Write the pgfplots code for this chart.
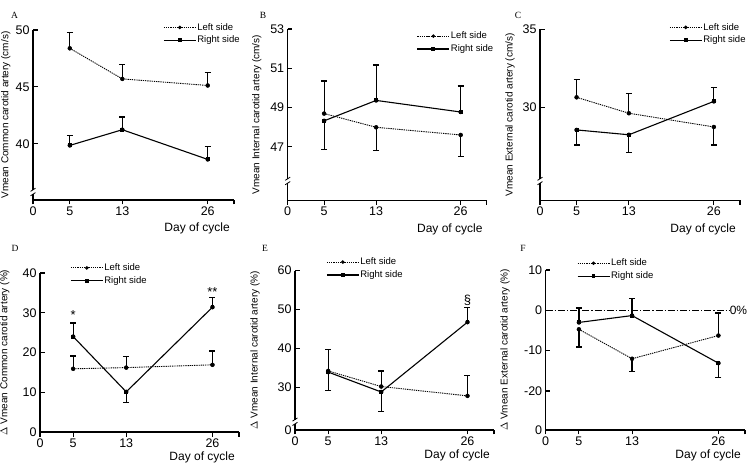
\documentclass[border=0pt]{standalone}
\usepackage{pgfplots}
\pgfplotsset{compat=1.18}
\usepackage{fontspec}
\setmainfont{Liberation Sans}
\newfontfamily\seriffont{Liberation Serif}

\pgfplotsset{
 panel/.style={
  scale only axis, anchor=south west, clip=false,
  axis x line*=bottom, axis y line*=left,
  axis line style={line width=1.2pt},
  tick align=inside, major tick length=4.5pt,
  every tick/.style={black, line width=1.1pt},
  xtick style={yshift=-4.5pt},
  tick label style={font=\fontsize{12.5}{14}\selectfont},
  xticklabel style={yshift=-3pt},
  xmax=30,
  ylabel style={font=\fontsize{10}{12}\selectfont, at={(rel axis cs:0,0.5)}, anchor=center},
  xlabel={Day of cycle},
  xlabel style={font=\fontsize{12}{14}\selectfont, at={(rel axis cs:1,0)}, anchor=base east, inner sep=0pt, xshift=-4pt},
  legend style={draw=none, fill=none, font=\fontsize{9.5}{10}\selectfont, legend cell align=left, inner sep=0pt, row sep=2.5pt, nodes={inner sep=1pt}},
  legend image code/.code={\draw[mark repeat=2, mark phase=2] plot coordinates {(0pt,0pt) (16pt,0pt) (32pt,0pt)};},
 },
 toprow/.style={xmin=-0.6, xtick={-0.6,5,13,26,30}, xticklabels={0,5,13,26,{}}, xlabel style={yshift=-32pt}},
 botrow/.style={xmin=0, xtick={0,5,13,26,30}, xticklabels={0,5,13,26,{}}, xlabel style={yshift=-28.5pt}},
 lefts/.style={black, line width=0.9pt, dash pattern=on 1.3pt off 0.9pt, mark=*, mark size=1.3pt, mark options={solid}},
 rights/.style={black, line width=1.1pt, solid, mark=square*, mark size=1.4pt, mark options={solid}},
 ebup/.style={forget plot, only marks, mark=none, error bars/y dir=plus, error bars/y explicit,
   error bars/error bar style={black, solid, line width=1.2pt},
   error bars/error mark options={black, solid, rotate=90, mark size=3pt, line width=1.2pt}},
 ebdn/.style={forget plot, only marks, mark=none, error bars/y dir=minus, error bars/y explicit,
   error bars/error bar style={black, solid, line width=1.2pt},
   error bars/error mark options={black, solid, rotate=90, mark size=3pt, line width=1.2pt}},
}
\newcommand{\ybreak}[1]{%
  \coordinate (BK) at (rel axis cs:0,#1);
  \fill[white] ([shift={(-1.5pt,-2.2pt)}]BK) rectangle ([shift={(1.5pt,2.2pt)}]BK);
  \draw[black, line width=0.8pt] ([shift={(-2.5pt,-3.8pt)}]BK) -- ([shift={(2.5pt,-0.6pt)}]BK);
  \draw[black, line width=0.8pt] ([shift={(-2.5pt,0.6pt)}]BK) -- ([shift={(2.5pt,3.8pt)}]BK);
}

\begin{document}
\begin{tikzpicture}
\useasboundingbox (0,0) rectangle (753pt,469pt);

% ---------------- A ----------------
\begin{axis}[panel, toprow, at={(33pt,269pt)}, width=201pt, height=170pt,
  ymin=35.05, ymax=50, ytick={40,45,50}, yticklabels={40,45,50},
  ylabel={Vmean Common carotid artery (cm/s)}, ylabel style={yshift=27.3pt},
  legend style={at={(rel axis cs:0.647,1.047)}, anchor=north west}]
\addplot[lefts] coordinates {(5,48.39) (13,45.70) (26,45.12)};
\addlegendentry{Left side}
\addplot[rights] coordinates {(5,39.85) (13,41.23) (26,38.62)};
\addlegendentry{Right side}
\addplot[ebup] coordinates {(5,48.39) +- (0,1.38) (13,45.70) +- (0,1.24) (26,45.12) +- (0,1.14)};
\addplot[ebup] coordinates {(5,39.85) +- (0,0.85) (13,41.23) +- (0,1.12) (26,38.62) +- (0,1.12)};
\ybreak{0.047}
\end{axis}

% ---------------- B ----------------
\begin{axis}[panel, toprow, at={(287.7pt,268.7pt)}, width=199pt, height=171.3pt,
  ymin=44.27, ymax=53, ytick={47,49,51,53}, yticklabels={47,49,51,53},
  ylabel={Vmean Internal carotid artery (cm/s)}, ylabel style={yshift=31pt},
  legend style={at={(rel axis cs:0.648,0.99)}, anchor=north west}]
\addplot[lefts] coordinates {(5,48.69) (13,47.99) (26,47.60)};
\addlegendentry{Left side}
\addplot[rights] coordinates {(5,48.32) (13,49.36) (26,48.77)};
\addlegendentry{Right side}
\addplot[ebup] coordinates {(5,48.69) +- (0,1.66) (13,49.36) +- (0,1.81) (26,48.77) +- (0,1.33)};
\addplot[ebdn] coordinates {(5,48.32) +- (0,1.47) (13,47.99) +- (0,1.19) (26,47.60) +- (0,1.11)};
\ybreak{0.113}
\end{axis}

% ---------------- C ----------------
\begin{axis}[panel, toprow, at={(540pt,268.7pt)}, width=200pt, height=171pt,
  ymin=24.04, ymax=35, ytick={30,35}, yticklabels={30,35},
  ylabel={Vmean External carotid artery (cm/s)}, ylabel style={yshift=30pt},
  legend style={at={(rel axis cs:0.645,1.043)}, anchor=north west}]
\addplot[lefts] coordinates {(5,30.64) (13,29.62) (26,28.74)};
\addlegendentry{Left side}
\addplot[rights] coordinates {(5,28.55) (13,28.24) (26,30.38)};
\addlegendentry{Right side}
\addplot[ebup] coordinates {(5,30.64) +- (0,1.15) (13,29.62) +- (0,1.28) (26,30.38) +- (0,0.90)};
\addplot[ebdn] coordinates {(5,28.55) +- (0,0.97) (13,28.24) +- (0,1.12) (26,28.74) +- (0,1.16)};
\ybreak{0.113}
\end{axis}

% ---------------- D ----------------
\begin{axis}[panel, botrow, at={(40pt,37pt)}, width=199pt, height=159pt,
  ymin=0, ymax=40, ytick={0,10,20,30,40}, yticklabels={0,10,20,30,40},
  ylabel={$\Delta$ Vmean Common carotid artery (\%)}, ylabel style={yshift=35.3pt},
  legend style={at={(rel axis cs:0.151,1.066)}, anchor=north west}]
\addplot[lefts] coordinates {(5,15.9) (13,16.2) (26,16.9)};
\addlegendentry{Left side}
\addplot[rights] coordinates {(5,24.0) (13,10.1) (26,31.4)};
\addlegendentry{Right side}
\addplot[ebup] coordinates {(5,15.9) +- (0,3.2) (13,16.2) +- (0,2.8) (26,16.9) +- (0,3.5)};
\addplot[ebup] coordinates {(5,24.0) +- (0,3.4) (26,31.4) +- (0,2.5)};
\addplot[ebdn] coordinates {(13,10.1) +- (0,2.6)};
\node[font=\fontsize{13}{13}\selectfont] at (axis cs:5,29.4) {*};
\node[font=\fontsize{13}{13}\selectfont] at (axis cs:26,35.3) {**};
\end{axis}

% ---------------- E ----------------
\begin{axis}[panel, botrow, at={(295pt,39pt)}, width=199pt, height=159.3pt,
  ymin=19.15, ymax=60, ytick={19.15,30,40,50,60}, yticklabels={0,30,40,50,60},
  ylabel={$\Delta$ Vmean Internal carotid artery (\%)}, ylabel style={yshift=40pt},
  legend style={at={(rel axis cs:0.156,1.088)}, anchor=north west}]
\addplot[lefts] coordinates {(5,34.3) (13,30.3) (26,27.9)};
\addlegendentry{Left side}
\addplot[rights] coordinates {(5,34.0) (13,28.9) (26,46.8)};
\addlegendentry{Right side}
\addplot[ebup] coordinates {(5,34.3) +- (0,5.5) (13,30.3) +- (0,4.0) (26,27.9) +- (0,5.2)};
\addplot[ebup] coordinates {(26,46.8) +- (0,3.7)};
\addplot[ebdn] coordinates {(5,34.0) +- (0,4.8) (13,28.9) +- (0,5.1)};
\node[font=\fontsize{13}{13}\selectfont] at (axis cs:26,52.3) {§};
\ybreak{0.052}
\end{axis}

% ---------------- F ----------------
\begin{axis}[panel, botrow, at={(545.7pt,39pt)}, width=199.3pt, height=160pt,
  ymin=-29.67, ymax=10, ytick={-29.67,-20,-10,0,10}, yticklabels={0,-20,-10,0,10},
  ylabel={$\Delta$ Vmean External carotid artery (\%)}, ylabel style={yshift=40.7pt},
  legend style={at={(rel axis cs:0.156,1.076)}, anchor=north west}]
\addplot[lefts] coordinates {(5,-4.7) (13,-12.0) (26,-6.25)};
\addlegendentry{Left side}
\addplot[rights] coordinates {(5,-3.0) (13,-1.3) (26,-13.1)};
\addlegendentry{Right side}
\addplot[forget plot, black, line width=0.8pt, dash pattern=on 7pt off 2pt on 1.2pt off 2pt] coordinates {(0,0) (27.6,0)};
\addplot[ebup] coordinates {(5,-3.0) +- (0,3.6) (13,-1.3) +- (0,4.3) (26,-6.25) +- (0,5.6)};
\addplot[ebdn] coordinates {(5,-4.7) +- (0,4.4) (13,-12.0) +- (0,3.1) (26,-13.1) +- (0,3.6)};
\node[anchor=west, inner sep=0.5pt, font=\fontsize{12}{14}\selectfont] at (axis cs:27.6,0) {0\%};
\end{axis}

% panel letters
\node[font=\seriffont\fontsize{9.5}{10}\selectfont] at (14.5pt,453.5pt) {A};
\node[font=\seriffont\fontsize{9.5}{10}\selectfont] at (263pt,453.5pt) {B};
\node[font=\seriffont\fontsize{9.5}{10}\selectfont] at (518pt,454pt) {C};
\node[font=\seriffont\fontsize{9.5}{10}\selectfont] at (15pt,221pt) {D};
\node[font=\seriffont\fontsize{9.5}{10}\selectfont] at (265pt,221pt) {E};
\node[font=\seriffont\fontsize{9.5}{10}\selectfont] at (523pt,221pt) {F};
\end{tikzpicture}
\end{document}
